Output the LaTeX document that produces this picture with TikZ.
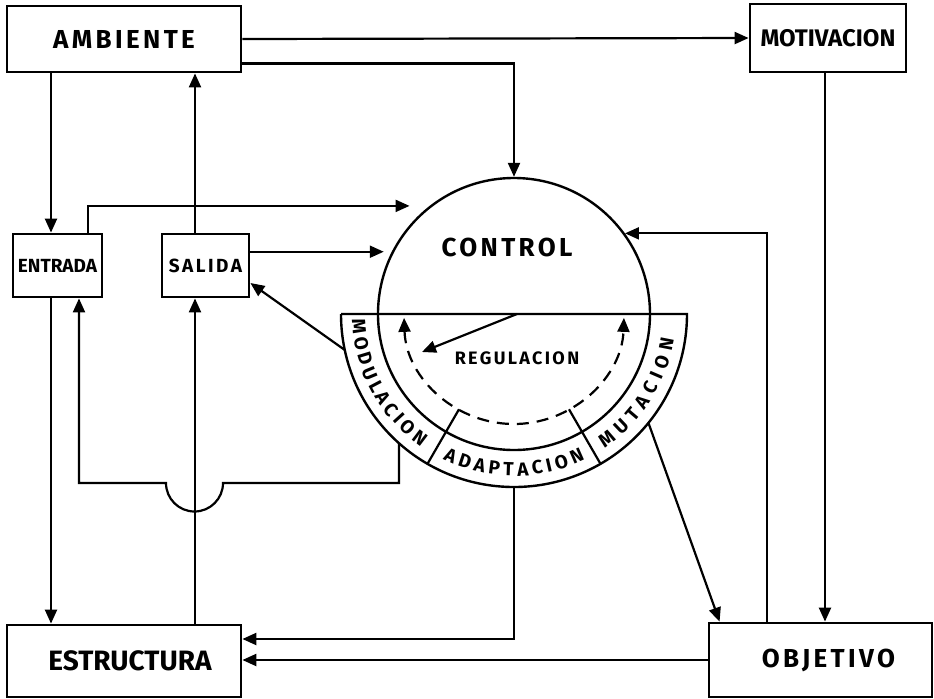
\documentclass[tikz,border=0pt]{standalone}
\usepackage{fontspec}
\setmainfont{Fira Sans}
\newfontfamily\widefont[LetterSpace=13]{Fira Sans}
\usetikzlibrary{arrows.meta,calc,decorations.text}

\begin{document}
\begin{tikzpicture}[x=0.5pt,y=-0.5pt,
	box/.style={draw,line width=1.4pt,inner sep=0pt,font=\bfseries},
	arr/.style={line width=1.1pt,-{Triangle[length=7pt,width=6pt]}},
	ln/.style={line width=1.1pt},
	ringtxt/.style={decorate,decoration={text along path,text align=fit to path,
		text={|\bfseries\fontsize{9.5}{11}\selectfont|#1}}}]
\useasboundingbox (0,0) rectangle (934,698);

% boxes
\node [box,minimum width=117pt,minimum height=33pt] (amb) at (124,39) {\widefont\bfseries\fontsize{13}{15}\selectfont AMBIENTE};
\node [box,minimum width=78pt,minimum height=34pt] (mot) at (828,38) {\fontsize{12}{14}\selectfont MOTIVACION};
\node [box,minimum width=44.5pt,minimum height=31.5pt] (ent) at (57.5,265.5) {\fontsize{9.5}{11}\selectfont ENTRADA};
\node [box,minimum width=43.5pt,minimum height=31.5pt] (sal) at (205.5,265.5) {\widefont\bfseries\fontsize{9.5}{11}\selectfont SALIDA};
\node [box,minimum width=117pt,minimum height=36pt] (est) at (124,661) {\fontsize{14}{16}\selectfont\hspace{6pt}ESTRUCTURA};
\node [box,minimum width=111.5pt,minimum height=37pt] (obj) at (820.5,660) {\widefont\bfseries\fontsize{13}{15}\selectfont\hspace{8pt}OBJETIVO};

% control circle and ring
\node [circle,draw,line width=1.2pt,minimum size=136pt,inner sep=0pt] (ctrl) at (514,314) {};
\node [font=\bfseries] (ctrltxt) at (507,247) {\widefont\bfseries\fontsize{13}{15}\selectfont CONTROL};
\node [font=\bfseries] (regtxt) at (517,358) {\widefont\bfseries\fontsize{9}{11}\selectfont REGULACION};
\draw [line width=1.2pt] ($(ctrl.center)+(180:173)$) -- ($(ctrl.center)+(0:173)$) arc (0:180:173);
\draw [ln] ($(ctrl.center)+(120:110)$) -- ($(ctrl.center)+(120:173)$);
\draw [ln] ($(ctrl.center)+(60:110)$) -- ($(ctrl.center)+(60:173)$);
\draw [ln,dash pattern=on 6pt off 4pt,{Triangle[length=7pt,width=6pt]}-{Triangle[length=7pt,width=6pt]}]
	($(ctrl.center)+(178:110)$) arc (178:2:110);
\path [ringtxt=MODULACION] ($(ctrl.center)+(178:162)$) arc (178:125:162);
\path [ringtxt=ADAPTACION] ($(ctrl.center)+(116:162)$) arc (116:64:162);
\path [ringtxt=MUTACION] ($(ctrl.center)+(56:162)$) arc (56:9:162);

\coordinate (reg) at (517,314);
\coordinate (regtip) at (422,352);
\coordinate (modout) at ($(ctrl.center)+(168:173)$);
\coordinate (modbot) at ($(ctrl.center)+(131.7:173)$);
\coordinate (adaout) at ($(ctrl.center)+(90:173)$);
\coordinate (mutout) at ($(ctrl.center)+(39:173)$);

% connectors
\draw [arr] (reg) -- (regtip);
\draw [arr] (amb.east) -- (mot.west);
\draw [arr] ([yshift=5pt]amb.south east) -| (ctrl.north);
\draw [arr] (amb.south -| 51,0) -- (ent.north -| 51,0);
\draw [arr,shorten >=10pt] (ent.north -| 88,0) |- (ctrl.128);
\draw [arr] (sal.north -| 195,0) -- (amb.south -| 195,0);
\draw [arr,shorten >=4pt] (sal.east |- ctrl.153) -- (ctrl.153);
\draw [arr] (modout) -- (sal.east |- 0,283);
\draw [arr] (modbot) |- (223,483) arc (0:180:28.5) -| (ent.south -| 79,0);
\draw [arr] (ent.south -| 51,0) -- (est.north -| 51,0);
\draw [arr] (est.north -| 195,0) -- (sal.south -| 195,0);
\draw [arr] (adaout) |- (est.east |- 0,639);
\draw [arr] (obj.west) -- (est.east |- obj.west);
\draw [arr] (obj.north -| 767,0) |- (ctrl.36);
\draw [arr] (mot.south -| 825,0) -- (obj.north -| 825,0);
\draw [arr] (mutout) -- ([xshift=6pt]obj.north west);
\end{tikzpicture}
\end{document}
